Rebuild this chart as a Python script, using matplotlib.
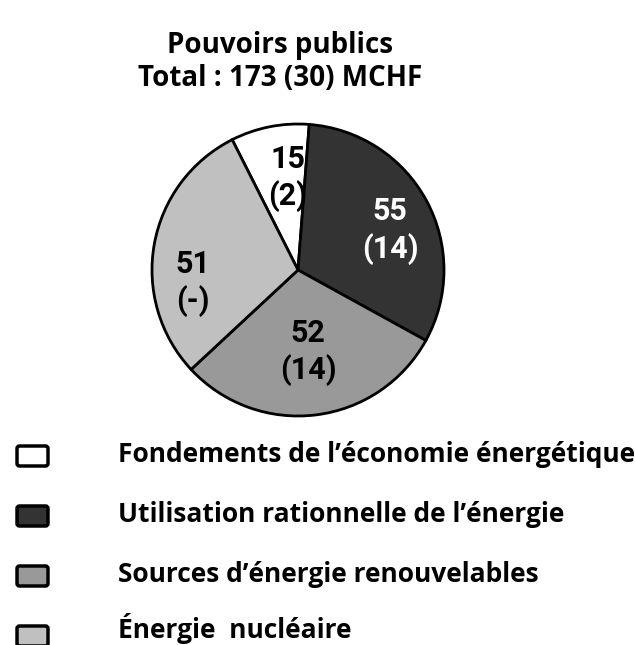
import matplotlib
matplotlib.use("Agg")
import matplotlib.pyplot as plt
from matplotlib.patches import FancyBboxPatch

categories = ["Fondements de l\u2019économie énergétique",
              "Utilisation rationnelle de l\u2019énergie",
              "Sources d\u2019énergie renouvelables",
              "Énergie  nucléaire"]
values = [15, 55, 52, 51]
sub_values = ["(2)", "(14)", "(14)", "(-)"]
colors = ["#ffffff", "#333333", "#999999", "#c0c0c0"]
label_colors = ["black", "white", "black", "black"]
title = "Pouvoirs publics\nTotal : 173 (30) MCHF"

plt.rcParams['font.family'] = ['Open Sans', 'DejaVu Sans']

W, H = 635, 645
fig = plt.figure(figsize=(W / 100, H / 100), dpi=100)

cx, cy, r = 298, 270, 146
ax = fig.add_axes([(cx - r) / W, 1 - (cy + r) / H, 2 * r / W, 2 * r / H])
wedges, _ = ax.pie(values, colors=colors, startangle=116.8, counterclock=False,
                   wedgeprops=dict(edgecolor="black", linewidth=2))
ax.set_xlim(-1, 1)
ax.set_ylim(-1, 1)
ax.set_aspect('equal')

label_pos = [(-0.07, 0.63), (0.63, 0.27), (0.07, -0.56), (-0.72, -0.09)]
for (x, y), v, s, c in zip(label_pos, values, sub_values, label_colors):
    ax.text(x, y, f"{v}\n{s}", ha="center", va="center", fontsize=22,
            fontweight="bold", color=c, linespacing=1.25,
            family=["Roboto", "DejaVu Sans"])

fig.text(280 / W, 1 - 62 / H, title, ha="center", va="center", fontsize=20,
         fontweight="bold", linespacing=1.15)

row_y = [456, 516, 576, 636]
text_y = [455, 515, 574, 629]
for i, (cat, col) in enumerate(zip(categories, colors)):
    y = row_y[i]
    rect = FancyBboxPatch((17 / W, 1 - (y + 10) / H), 31 / W, 20 / H,
                          boxstyle="round,pad=0,rounding_size=0.004",
                          transform=fig.transFigure, facecolor=col,
                          edgecolor="black", linewidth=2.5)
    fig.add_artist(rect)
    fig.text(118 / W, 1 - text_y[i] / H, cat, ha="left", va="center",
             fontsize=19, fontweight="bold")

fig.savefig("out.png", dpi=100, facecolor="white")
